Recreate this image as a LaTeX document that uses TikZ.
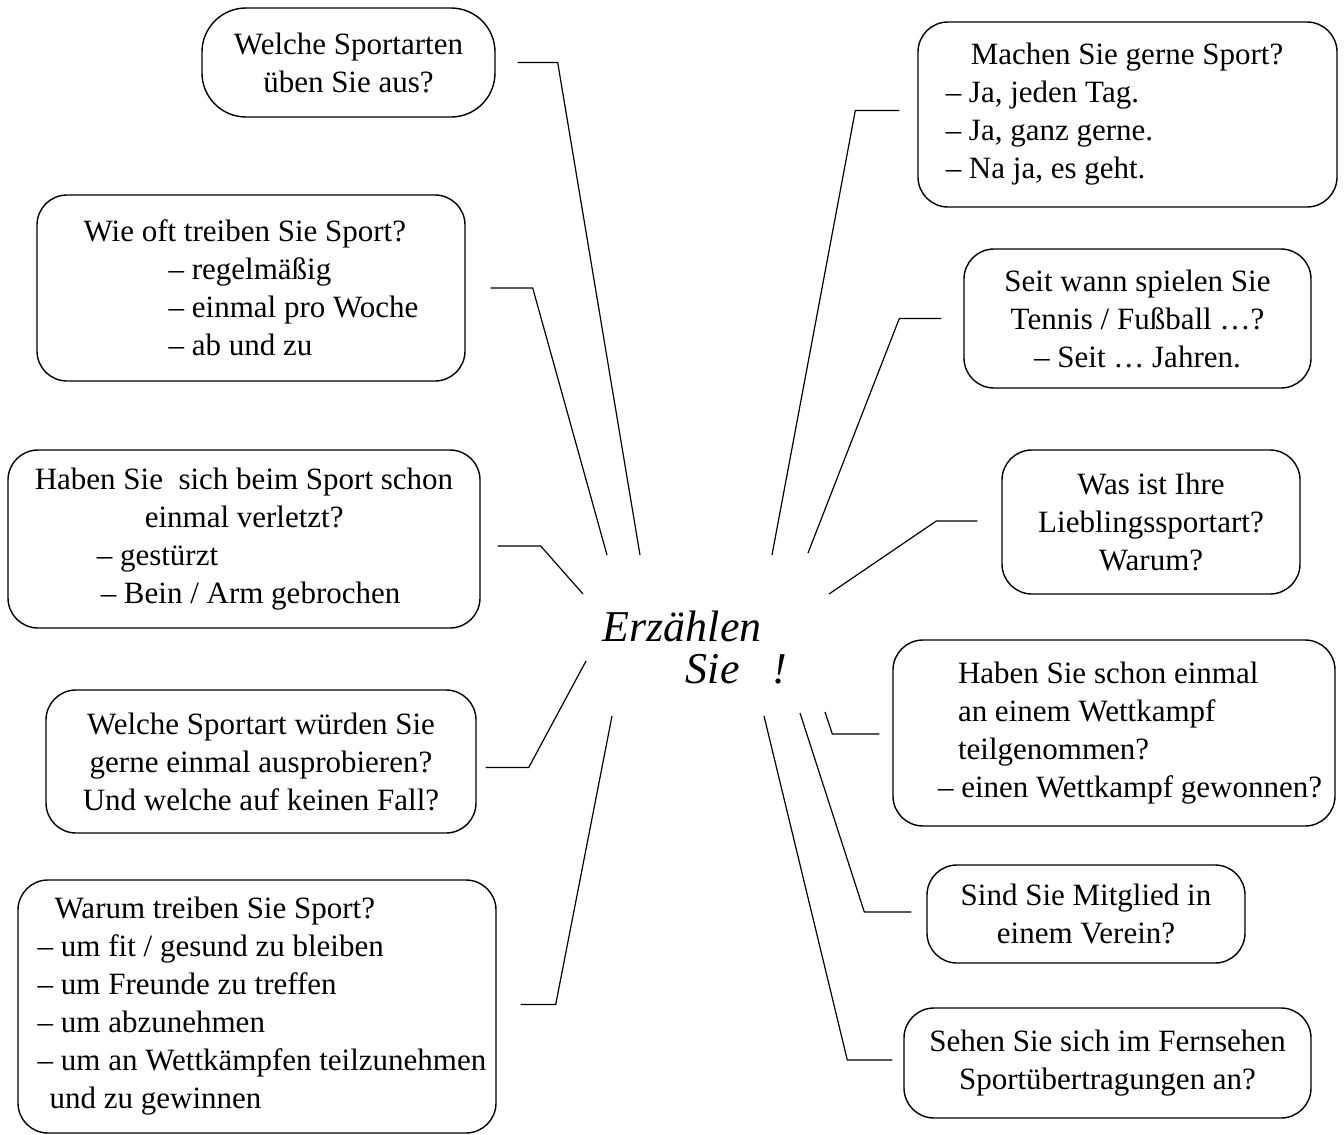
\documentclass[tikz,border=0pt]{standalone}
\usepackage{fontspec}
\setmainfont{Liberation Serif}

\begin{document}
\begin{tikzpicture}[x=0.5pt, y=-0.5pt, line width=0.7pt,
                    every node/.style={font=\fontsize{15.5}{19}\selectfont, inner sep=0pt}]
  \tikzstyle{frage}=[draw, rounded corners=15pt, align=center]
  \tikzstyle{verb}=[line width=0.6pt]

  \useasboundingbox (0,0) rectangle (1344,1135);

  % middle
  \node[font=\fontsize{22}{21}\selectfont\itshape, align=left] (mitte) at (695,648)
       {Erzählen\\\hspace*{41.5pt}Sie\enspace\ !};

  % left column
  \node[frage, minimum width=146.5pt, minimum height=54.5pt, rounded corners=22pt] (f_1) at (348.5,62.5)
       {Welche Sportarten\\üben Sie aus?};
  \node[frage, align=left, minimum width=214pt, minimum height=93pt] (f_2) at (251,288)
       {Wie oft treiben Sie Sport?\\\hspace*{42.5pt}– regelmäßig\\\hspace*{42.5pt}– einmal pro Woche\\\hspace*{42.5pt}– ab und zu};
  \node[frage, align=left, minimum width=236pt, minimum height=89pt] (f_3) at (244,539)
       {Haben Sie \ sich beim Sport schon\\\hspace*{55pt}einmal verletzt?\\\hspace*{31pt}– gestürzt\\\hspace*{33pt}– Bein / Arm gebrochen};
  \node[frage, minimum width=215pt, minimum height=71.5pt] (f_4) at (261,761.5)
       {Welche Sportart würden Sie\\gerne einmal ausprobieren?\\Und welche auf keinen Fall?};
  \node[frage, align=left, minimum width=239pt, minimum height=126.5pt] (f_5) at (257,1006.5)
       {\hspace*{13.5pt}Warum treiben Sie Sport?\\\hspace*{5pt}– um fit / gesund zu bleiben\\\hspace*{5pt}– um Freunde zu treffen\\\hspace*{5pt}– um abzunehmen\\\hspace*{5pt}– um an Wettkämpfen teilzunehmen\\\hspace*{11pt}und zu gewinnen};

  % right column
  \node[frage, align=left, minimum width=209.5pt, minimum height=92.5pt] (f_6) at (1127.5,114.5)
       {\hspace*{12.5pt}Machen Sie gerne Sport?\hspace*{13pt}\\– Ja, jeden Tag.\\– Ja, ganz gerne.\\– Na ja, es geht.};
  \node[frage, minimum width=173.5pt, minimum height=69.5pt] (f_7) at (1137.5,318.5)
       {Seit wann spielen Sie\\Tennis / Fußball …?\\– Seit … Jahren.};
  \node[frage, minimum width=149pt, minimum height=72pt] (f_8) at (1151,522)
       {Was ist Ihre\\Lieblingssportart?\\Warum?};
  \node[frage, align=left, minimum width=221pt, minimum height=93pt] (f_9) at (1114,733)
       {\hspace*{26pt}Haben Sie schon einmal\\\hspace*{26pt}an einem Wettkampf\\\hspace*{26pt}teilgenommen?\\\hspace*{16pt}– einen Wettkampf gewonnen?};
  \node[frage, minimum width=159pt, minimum height=49pt] (f_10) at (1086,914)
       {Sind Sie Mitglied in\\einem Verein?};
  \node[frage, minimum width=203.5pt, minimum height=55pt] (f_11) at (1107.5,1063)
       {Sehen Sie sich im Fernsehen\\Sportübertragungen an?};

  % ends of the rays round the middle
  \coordinate (e_1) at (640,555);
  \coordinate (e_2) at (607,555);
  \coordinate (e_3) at (583,594);
  \coordinate (e_4) at (586,661);
  \coordinate (e_5) at (612,716);
  \coordinate (e_6) at (772,555);
  \coordinate (e_7) at (808,553);
  \coordinate (e_8) at (829,594);
  \coordinate (e_9) at (825,712);
  \coordinate (e_10) at (800,713);
  \coordinate (e_11) at (764,716);

  \draw[verb] (f_1.east) ++(22,0) -- ++(40,0) -- (e_1);
  \draw[verb] (f_2.east) ++(25,0) -- ++(42,0) -- (e_2);
  \draw[verb] (f_3.east) ++(17,7) -- ++(43,0) -- (e_3);
  \draw[verb] (f_4.east) ++(9,6) -- ++(43,0) -- (e_4);
  \draw[verb] (f_5.east) ++(24,-2) -- ++(35,0) -- (e_5);
  \draw[verb] (f_6.west) ++(-18,-4) -- ++(-44,0) -- (e_6);
  \draw[verb] (f_7.west) ++(-22,0) -- ++(-42,0) -- (e_7);
  \draw[verb] (f_8.west) ++(-24,-1) -- ++(-41,0) -- (e_8);
  \draw[verb] (f_9.west) ++(-13,1) -- ++(-47,0) -- (e_9);
  \draw[verb] (f_10.west) ++(-15,-2) -- ++(-47,0) -- (e_10);
  \draw[verb] (f_11.west) ++(-11,-3) -- ++(-45,0) -- (e_11);
\end{tikzpicture}
\end{document}
